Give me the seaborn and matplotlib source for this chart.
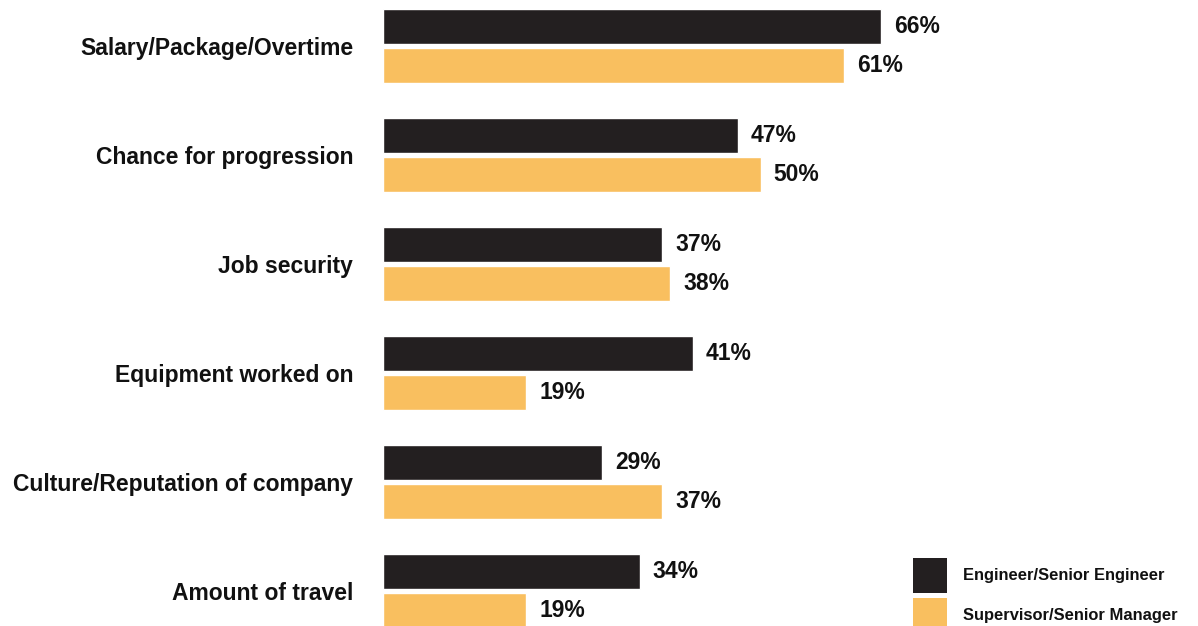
import matplotlib
matplotlib.use("Agg")
import matplotlib.pyplot as plt
import seaborn as sns
import pandas as pd
from matplotlib.patches import Patch

categories = ["Salary/Package/Overtime", "Chance for progression", "Job security",
              "Equipment worked on", "Culture/Reputation of company", "Amount of travel"]
engineer = [66, 47, 37, 41, 29, 34]
supervisor = [61, 50, 38, 19, 37, 19]
series_names = ["Engineer/Senior Engineer", "Supervisor/Senior Manager"]
colors = ["#231f20", "#f9bf5f"]

df = pd.DataFrame({
    "category": categories * 2,
    "value": engineer + supervisor,
    "series": [series_names[0]] * len(categories) + [series_names[1]] * len(categories),
})

sns.set_style("white")
plt.rcParams['font.family'] = ['Liberation Sans', 'DejaVu Sans']

fig = plt.figure(figsize=(11.98, 6.26), dpi=100)
ax = fig.add_axes([383 / 1198, 0, 1 - 383 / 1198, 1])

sns.barplot(data=df, y="category", x="value", hue="series", order=categories,
            hue_order=series_names, palette=colors, orient="h", width=0.716,
            gap=0.103, saturation=1, legend=False, ax=ax)

px_per_unit = 7.55
ax.set_xlim(0, (1198 - 383) / px_per_unit)
ax.set_ylim(5 + 35 / 109, -46 / 109)

for container in ax.containers:
    ax.bar_label(container, labels=[f"{v:.0f}%" for v in container.datavalues],
                 padding=9.5, fontsize=16.5, fontweight="bold", color="#111111")

ax.set_xlabel("")
ax.set_ylabel("")
ax.set_xticks([])
ax.tick_params(axis="y", length=0, pad=21.5)
for lbl in ax.get_yticklabels():
    lbl.set_fontsize(16.5)
    lbl.set_fontweight("bold")
    lbl.set_color("#111111")
for s in ax.spines.values():
    s.set_visible(False)

handles = [Patch(facecolor=c, edgecolor="none") for c in colors]
leg = fig.legend(handles, series_names, loc="upper left",
                 bbox_to_anchor=(898 / 1198, 1 - 543 / 626), frameon=False,
                 fontsize=11.9, handlelength=2.06, handleheight=2.86,
                 handletextpad=0.97, labelspacing=0.31)
for t in leg.get_texts():
    t.set_fontweight("bold")
    t.set_color("#111111")

fig.savefig("out.png", dpi=100)
